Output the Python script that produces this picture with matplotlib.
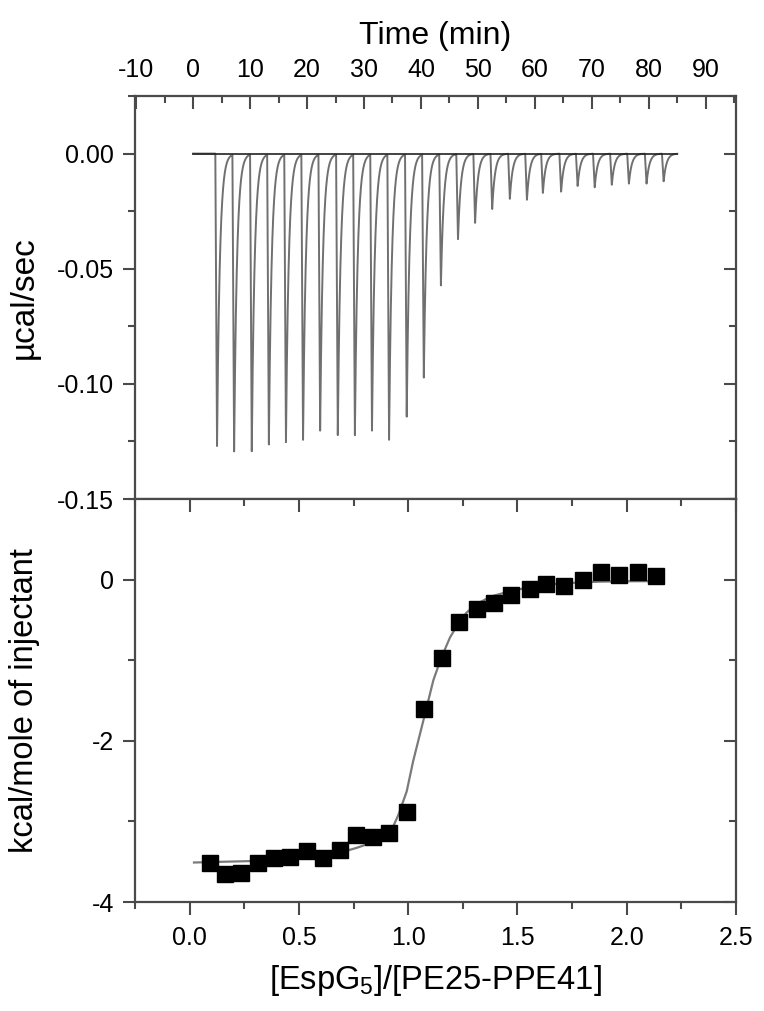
import numpy as np
import matplotlib
matplotlib.use("Agg")
import matplotlib.pyplot as plt
from matplotlib.ticker import MultipleLocator

plt.rcParams['font.family'] = ['Liberation Sans', 'DejaVu Sans']
plt.rcParams['mathtext.fontset'] = 'custom'
plt.rcParams['mathtext.rm'] = 'Liberation Sans'
plt.rcParams['mathtext.it'] = 'Liberation Sans:italic'

# ---- Data ----
# Thermogram: injection times (min) and peak heights (ucal/sec)
inj_time = [4.2, 7.2, 10.3, 13.3, 16.3, 19.3, 22.3, 25.4, 28.4, 31.4, 34.4, 37.5,
            40.5, 43.5, 46.5, 49.5, 52.5, 55.6, 58.6, 61.4, 64.6, 67.5, 70.5,
            73.5, 76.5, 79.6, 82.6]
peak_height = [-0.127, -0.129, -0.129, -0.126, -0.125, -0.124, -0.120, -0.122,
               -0.122, -0.120, -0.124, -0.114, -0.097, -0.057, -0.037, -0.030,
               -0.024, -0.0196, -0.020, -0.017, -0.0165, -0.014, -0.0146,
               -0.0135, -0.013, -0.013, -0.012]
run_start, run_end = 0.0, 85.0

# Integrated heats
molar_ratio = [0.093, 0.164, 0.237, 0.313, 0.386, 0.461, 0.535, 0.611, 0.686,
               0.762, 0.838, 0.914, 0.993, 1.073, 1.155, 1.232, 1.313, 1.391,
               1.472, 1.556, 1.632, 1.714, 1.799, 1.883, 1.966, 2.050, 2.134]
heat = [-3.52, -3.65, -3.64, -3.52, -3.45, -3.44, -3.37, -3.45, -3.35, -3.17,
        -3.19, -3.15, -2.88, -1.60, -0.97, -0.53, -0.36, -0.29, -0.19, -0.12,
        -0.05, -0.075, -0.01, 0.09, 0.06, 0.09, 0.04]

# Fitted curve
fit_x = [0.02, 0.164, 0.313, 0.461, 0.611, 0.686, 0.762, 0.838, 0.917, 0.955,
         0.993, 1.023, 1.073, 1.115, 1.150, 1.191, 1.230, 1.267, 1.309, 1.350,
         1.391, 1.472, 1.556, 1.632, 1.714, 1.799, 1.883, 1.966, 2.050, 2.134]
fit_y = [-3.51, -3.50, -3.49, -3.46, -3.42, -3.39, -3.33, -3.26, -3.15, -2.92,
         -2.63, -2.25, -1.71, -1.25, -0.98, -0.72, -0.54, -0.41, -0.31, -0.25,
         -0.20, -0.14, -0.095, -0.062, -0.046, -0.033, -0.025, -0.022, -0.02, -0.02]

# ---- Figure ----
fig = plt.figure(figsize=(7.64, 10.11), dpi=100)
L, W = 135/764, (736-135)/764
ax1 = fig.add_axes([L, (1011-499)/1011, W, (499-96)/1011])
ax2 = fig.add_axes([L, (1011-902)/1011, W, (902-499)/1011])

spine_c = '#4a4a4a'
TFS = 18
LFS = 23

# thermogram trace built from injection peaks
t = np.linspace(run_start, run_end, 8501)
sig = np.zeros_like(t)
for ti, hi in zip(inj_time, peak_height):
    dt = t - ti
    shape = np.where((dt >= -0.3) & (dt < 0), (dt + 0.3) / 0.3, 0.0)
    shape = np.where(dt >= 0, np.exp(-dt / 0.5), shape)
    sig += hi * shape
ax1.plot(t, sig, color='#707070', lw=1.4, zorder=2)
ax1.plot([run_start, run_end], [0, 0], color='#222222', lw=1.2, zorder=3)

ax1.set_xlim(-10.2, 95.3)
ax1.set_ylim(-0.15, 0.025)
ax1.xaxis.set_major_locator(MultipleLocator(10))
ax1.xaxis.set_minor_locator(MultipleLocator(5))
ax1.yaxis.set_major_locator(MultipleLocator(0.05))
ax1.yaxis.set_minor_locator(MultipleLocator(0.025))
ax1.tick_params(axis='x', which='both', top=True, bottom=False, labeltop=True,
                labelbottom=False, direction='in', labelsize=TFS, pad=10)
ax1.tick_params(axis='y', which='both', left=True, right=False, direction='out',
                labelsize=TFS, pad=6)
ax1.set_yticks([0.0, -0.05, -0.10, -0.15])
ax1.set_yticklabels(['0.00', '-0.05', '-0.10', '-0.15'])
ax1.set_xticks(range(-10, 91, 10))
ax1.set_xticklabels([str(v) for v in range(-10, 91, 10)])
# right-side inward ticks
ax1r = ax1.secondary_yaxis('right')
ax1r.yaxis.set_major_locator(MultipleLocator(0.05))
ax1r.yaxis.set_minor_locator(MultipleLocator(0.025))
ax1r.tick_params(which='both', direction='in', labelright=False, color=spine_c, width=1.5)
ax1r.tick_params(which='major', length=9)
ax1r.tick_params(which='minor', length=5)
ax1r.spines['right'].set_visible(False)
ax1.xaxis.set_label_position('top')
ax1.set_xlabel('Time (min)', fontsize=LFS, labelpad=10)
ax1.set_ylabel('\u00b5cal/sec', fontsize=LFS + 1, labelpad=8)

# binding isotherm
ax2.plot(fit_x, fit_y, color='#7a7a7a', lw=1.6, zorder=2)
ax2.plot(molar_ratio, heat, 's', color='black', ms=11, zorder=3)
ax2.set_xlim(-0.25, 2.5)
ax2.set_ylim(-4, 1.0)
ax2.xaxis.set_major_locator(MultipleLocator(0.5))
ax2.xaxis.set_minor_locator(MultipleLocator(0.25))
ax2.yaxis.set_major_locator(MultipleLocator(2))
ax2.yaxis.set_minor_locator(MultipleLocator(1))
ax2.tick_params(axis='x', which='both', bottom=True, top=False, direction='out',
                labelsize=TFS, pad=8)
ax2.tick_params(axis='y', which='both', left=True, right=False, direction='out',
                labelsize=TFS, pad=6)
ax2.set_xticks([0.0, 0.5, 1.0, 1.5, 2.0, 2.5])
ax2.set_xticklabels(['0.0', '0.5', '1.0', '1.5', '2.0', '2.5'])
ax2.set_yticks([0, -2, -4])
ax2.set_yticklabels(['0', '-2', '-4'])
ax2t = ax2.secondary_xaxis('top')
ax2t.xaxis.set_major_locator(MultipleLocator(0.5))
ax2t.xaxis.set_minor_locator(MultipleLocator(0.25))
ax2t.tick_params(which='both', direction='in', labeltop=False, color=spine_c, width=1.5)
ax2t.tick_params(which='major', length=9)
ax2t.tick_params(which='minor', length=5)
ax2t.spines['top'].set_visible(False)
ax2r = ax2.secondary_yaxis('right')
ax2r.yaxis.set_major_locator(MultipleLocator(2))
ax2r.yaxis.set_minor_locator(MultipleLocator(1))
ax2r.tick_params(which='both', direction='in', labelright=False, color=spine_c, width=1.5)
ax2r.tick_params(which='major', length=9)
ax2r.tick_params(which='minor', length=5)
ax2r.spines['right'].set_visible(False)
ax2.set_xlabel('[EspG$_\\mathrm{5}$]/[PE25-PPE41]', fontsize=LFS + 0.5, labelpad=10)
ax2.set_ylabel('kcal/mole of injectant', fontsize=LFS + 0.5, labelpad=8)

for ax in (ax1, ax2):
    for s in ax.spines.values():
        s.set_color(spine_c)
        s.set_linewidth(1.6)
    ax.tick_params(which='both', color=spine_c, width=1.5)
    ax.tick_params(which='major', length=9)
    ax.tick_params(which='minor', length=5)

# align y labels horizontally
ax1.yaxis.set_label_coords(-0.158, 0.5)
ax2.yaxis.set_label_coords(-0.158, 0.5)

fig.savefig('out.png', dpi=100)
